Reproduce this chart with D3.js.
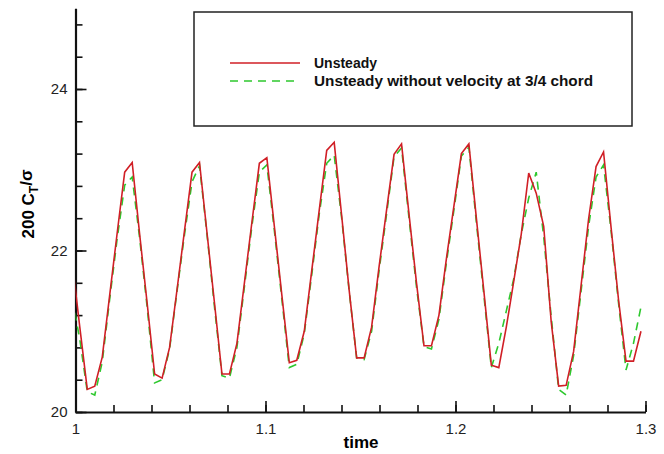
<!DOCTYPE html>
<html>
<head>
<meta charset="utf-8">
<script src="https://cdn.jsdelivr.net/npm/d3@7"></script>
<style>
body { margin: 0; background: #fff; }
text { font-family: "Liberation Sans", Arial, sans-serif; }
</style>
</head>
<body>
<div id="chart"></div>
<script>
const width = 664
const height = 454

// sample times (regular solver output step)
const time = [
  0.99832, 1.00226,
  1.00620, 1.01014, 1.01408, 1.01801, 1.02195, 1.02589, 1.02983, 1.03377, 1.03770,
  1.04164, 1.04558, 1.04952, 1.05346, 1.05739, 1.06133, 1.06527, 1.06921, 1.07315,
  1.07708, 1.08102, 1.08496, 1.08890, 1.09284, 1.09677, 1.10071, 1.10465, 1.10859,
  1.11253, 1.11646, 1.12040, 1.12434, 1.12828, 1.13222, 1.13615, 1.14009, 1.14403,
  1.14797, 1.15191, 1.15584, 1.15978, 1.16372, 1.16766, 1.17160, 1.17553, 1.17947,
  1.18341, 1.18735, 1.19129, 1.19522, 1.19916, 1.20310, 1.20704, 1.21098, 1.21491,
  1.21885, 1.22279, 1.22673, 1.23067, 1.23460, 1.23854, 1.24248, 1.24642, 1.25036,
  1.25429, 1.25823, 1.26217, 1.26611, 1.27005, 1.27398, 1.27792, 1.28186, 1.28580,
  1.28974, 1.29367, 1.29761
]

const unsteady = [
  21.85, 21.05,
  20.28, 20.32, 20.68, 21.45, 22.22, 22.97, 23.09, 22.20, 21.35,
  20.47, 20.42, 20.80, 21.52, 22.25, 22.97, 23.09, 22.22, 21.35,
  20.47, 20.47, 20.85, 21.60, 22.35, 23.08, 23.15, 22.30, 21.45,
  20.61, 20.64, 21.00, 21.75, 22.50, 23.24, 23.34, 22.43, 21.51,
  20.67, 20.67, 21.05, 21.80, 22.50, 23.19, 23.32, 22.45, 21.60,
  20.82, 20.82, 21.20, 21.90, 22.55, 23.20, 23.32, 22.40, 21.50,
  20.58, 20.55, 21.05, 21.62, 22.20, 22.96, 22.71, 22.30, 21.12,
  20.32, 20.33, 20.75, 21.57, 22.39, 23.04, 23.22, 22.29, 21.39,
  20.63, 20.63, 21.00
]

const noVelocity = [
  21.40, 20.90,
  20.25, 20.21, 20.62, 21.40, 22.15, 22.81, 22.91, 22.15, 21.30,
  20.36, 20.40, 20.78, 21.50, 22.20, 22.85, 23.05, 22.20, 21.30,
  20.45, 20.42, 20.80, 21.55, 22.30, 22.97, 23.06, 22.25, 21.40,
  20.55, 20.59, 20.97, 21.70, 22.45, 23.08, 23.18, 22.40, 21.50,
  20.67, 20.65, 21.00, 21.75, 22.45, 23.16, 23.27, 22.40, 21.55,
  20.81, 20.78, 21.15, 21.85, 22.50, 23.17, 23.28, 22.35, 21.45,
  20.55, 20.85, 21.25, 21.65, 22.20, 22.65, 22.97, 22.17, 21.18,
  20.28, 20.21, 20.70, 21.50, 22.30, 22.91, 23.06, 22.25, 21.35,
  20.52, 20.85, 21.30
]

const seriesNames = ["Unsteady", "Unsteady without velocity at 3/4 chord"]
const seriesColors = ["#d01f26", "#2ec82e"]
const xTickValues = [1, 1.1, 1.2, 1.3]
const yTickValues = [20, 22, 24]

const svg = d3.select("div#chart")
  .append("svg")
  .attr("width", width)
  .attr("height", height)

const x = d3.scaleLinear().domain([1, 1.3]).range([75.5, 645.5])
const y = d3.scaleLinear().domain([20, 25]).range([412, 8.25])

// clip so the first segment stops at t = 1
svg.append("clipPath").attr("id", "plotClip")
  .append("rect")
  .attr("x", x(1)).attr("y", 0)
  .attr("width", x(1.3) - x(1)).attr("height", y(20))

// ejes: menores primero, luego mayores
const axisGroup = svg.append("g").attr("id", "axisGroup")

const xMinor = axisGroup.append("g")
  .attr("transform", `translate(0, ${y(20)})`)
  .call(d3.axisBottom(x).tickValues(d3.range(1, 1.3001, 0.02)).tickFormat("").tickSize(-7))
const yMinor = axisGroup.append("g")
  .attr("transform", `translate(${x(1)}, 0)`)
  .call(d3.axisLeft(y).tickValues(d3.range(20, 25.001, 0.4)).tickFormat("").tickSize(-7))
xMinor.select(".domain").remove()
yMinor.select(".domain").remove()

const xAxisGroup = axisGroup.append("g")
  .attr("transform", `translate(0, ${y(20)})`)
  .call(d3.axisBottom(x).tickValues(xTickValues).tickFormat(d3.format("~g"))
    .tickSize(-11).tickSizeOuter(0).tickPadding(11))
const yAxisGroup = axisGroup.append("g")
  .attr("transform", `translate(${x(1)}, 0)`)
  .call(d3.axisLeft(y).tickValues(yTickValues).tickFormat(d3.format("d"))
    .tickSize(-11).tickSizeOuter(0).tickPadding(8))

axisGroup.selectAll(".tick line").attr("stroke", "#111").attr("stroke-width", 1.6)
axisGroup.selectAll(".domain").attr("stroke", "#111").attr("stroke-width", 2.2)
axisGroup.selectAll(".tick text")
  .attr("font-size", 15)
  .attr("fill", "#222")
  .style("font-family", "'Liberation Sans', Arial, sans-serif")

// titulos de ejes
svg.append("text")
  .attr("x", 361).attr("y", 448)
  .attr("text-anchor", "middle")
  .attr("font-size", 17).attr("font-weight", "bold")
  .text("time")

const yTitle = svg.append("text")
  .attr("transform", "translate(34, 204) rotate(-90)")
  .attr("text-anchor", "middle")
  .attr("font-size", 17).attr("font-weight", "bold")
yTitle.append("tspan").text("200 C")
yTitle.append("tspan").attr("font-size", 12).attr("dy", "0.35em").text("T")
yTitle.append("tspan").attr("dy", "-0.35em").text("/σ")

// lineas
const elementGroup = svg.append("g")
  .attr("id", "elementGroup")
  .attr("clip-path", "url(#plotClip)")

const line = d3.line()
  .x((d, i) => x(time[i]))
  .y(d => y(d))

elementGroup.append("path")
  .datum(noVelocity)
  .attr("fill", "none")
  .attr("stroke", seriesColors[1])
  .attr("stroke-width", 1.6)
  .attr("stroke-dasharray", "8,6")
  .attr("d", line)

elementGroup.append("path")
  .datum(unsteady)
  .attr("fill", "none")
  .attr("stroke", seriesColors[0])
  .attr("stroke-width", 1.6)
  .attr("d", line)

// leyenda
const legend = svg.append("g").attr("id", "legend")
legend.append("rect")
  .attr("x", 194).attr("y", 12)
  .attr("width", 438).attr("height", 114)
  .attr("fill", "#fff")
  .attr("stroke", "#222")
  .attr("stroke-width", 1.5)

legend.selectAll("g.item").data(seriesNames)
  .join("g")
  .attr("class", "item")
  .attr("transform", (d, i) => `translate(0, ${63 + i * 18})`)
  .each(function(d, i) {
    const g = d3.select(this)
    g.append("line")
      .attr("x1", 230).attr("x2", 300)
      .attr("stroke", seriesColors[i])
      .attr("stroke-width", 1.6)
      .attr("stroke-dasharray", i === 1 ? "8,6" : null)
    const t = g.append("text")
      .attr("x", 314).attr("y", 5)
      .attr("font-size", 14).attr("font-weight", "bold")
      .attr("fill", "#111")
      .text(d)
    // el texto largo es algo mas ancho en el original
    if (i === 1) t.attr("textLength", 279).attr("lengthAdjust", "spacingAndGlyphs")
  })
</script>
</body>
</html>
